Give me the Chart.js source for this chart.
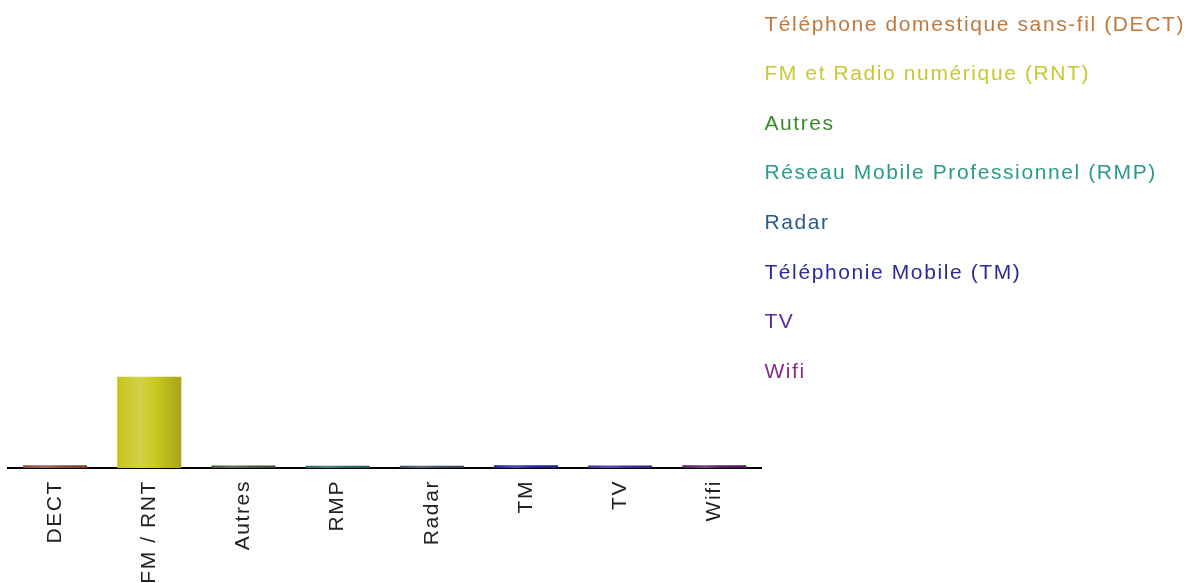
<!DOCTYPE html>
<html>
<head>
<meta charset="utf-8">
<script src="https://cdn.jsdelivr.net/npm/chart.js@4/dist/chart.umd.min.js"></script>
<style>
  html, body { margin: 0; padding: 0; background: #fff; }
  #wrap { width: 1195px; height: 583px; position: relative; }
</style>
</head>
<body>
<div id="wrap"><canvas id="c"></canvas></div>
<script>
// ---- data ----
const categories = ['DECT', 'FM / RNT', 'Autres', 'RMP', 'Radar', 'TM', 'TV', 'Wifi'];
const legendNames = [
  'Téléphone domestique sans-fil (DECT)',
  'FM et Radio numérique (RNT)',
  'Autres',
  'Réseau Mobile Professionnel (RMP)',
  'Radar',
  'Téléphonie Mobile (TM)',
  'TV',
  'Wifi'
];
const values = [0.012, 0.39, 0.011, 0.010, 0.010, 0.012, 0.011, 0.012];

// ---- styles ----
const barColors = ['#8a4a3c', '#c8c81e', '#3c5a3c', '#2c6666', '#3c4a5a', '#2222a0', '#3a2a9c', '#5a1a5a'];
const textColors = ['#c0783c', '#c8c832', '#3a8a2a', '#2a9a8a', '#2a5a8a', '#2a2a9a', '#5a2a9a', '#8a2a8a'];

function shade(hex, f) {
  const n = parseInt(hex.slice(1), 16);
  let r = (n >> 16) & 255, g = (n >> 8) & 255, b = n & 255;
  if (f >= 0) { r += (255 - r) * f; g += (255 - g) * f; b += (255 - b) * f; }
  else { r *= (1 + f); g *= (1 + f); b *= (1 + f); }
  return 'rgb(' + Math.round(r) + ',' + Math.round(g) + ',' + Math.round(b) + ')';
}

const BAR_PCT = 0.68;
const SPACING = '1.6px';

const spacingPlugin = {
  id: 'spacing',
  beforeLayout(chart) { chart.ctx.letterSpacing = SPACING; },
  beforeDraw(chart) { chart.ctx.letterSpacing = SPACING; }
};

new Chart(document.getElementById('c'), {
  type: 'bar',
  data: {
    labels: categories,
    datasets: [{
      label: 'Mesures',
      data: values,
      barPercentage: BAR_PCT,
      categoryPercentage: 1,
      borderWidth: 0,
      backgroundColor: (c) => {
        const i = c.dataIndex;
        const base = barColors[i];
        const xs = c.chart.scales && c.chart.scales.x;
        if (c.type !== 'data' || !xs || !xs.width) return base;
        const cx = xs.getPixelForValue(i);
        const w = xs.width / categories.length * BAR_PCT;
        const g = c.chart.ctx.createLinearGradient(cx - w / 2, 0, cx + w / 2, 0);
        g.addColorStop(0, shade(base, -0.02));
        g.addColorStop(0.35, shade(base, 0.18));
        g.addColorStop(0.6, shade(base, 0.02));
        g.addColorStop(1, shade(base, -0.18));
        return g;
      }
    }]
  },
  options: {
    responsive: true,
    maintainAspectRatio: false,
    animation: false,
    layout: { padding: { left: 8, right: 0, top: 0, bottom: 0 } },
    plugins: {
      tooltip: { enabled: false },
      legend: {
        position: 'right',
        align: 'start',
        onClick: null,
        labels: {
          boxWidth: -7.5,
          boxHeight: 49.6,
          padding: 0,
          font: { family: 'Arial, "Liberation Sans", sans-serif', size: 21 },
          generateLabels: () => legendNames.map((t, i) => ({
            text: t,
            fontColor: textColors[i],
            fillStyle: 'rgba(0,0,0,0)',
            strokeStyle: 'rgba(0,0,0,0)',
            lineWidth: 0,
            hidden: false,
            index: i
          }))
        }
      }
    },
    scales: {
      x: {
        offset: true,
        grid: { display: false, drawTicks: false },
        border: { display: true, color: '#000', width: 2 },
        ticks: {
          autoSkip: false,
          minRotation: 90,
          maxRotation: 90,
          padding: 12,
          color: '#222',
          font: { family: 'Arial, "Liberation Sans", sans-serif', size: 21 }
        },
        afterFit: (s) => { s.height = 115; }
      },
      y: {
        display: false,
        min: 0,
        max: 2
      }
    }
  },
  plugins: [spacingPlugin]
});
</script>
</body>
</html>
